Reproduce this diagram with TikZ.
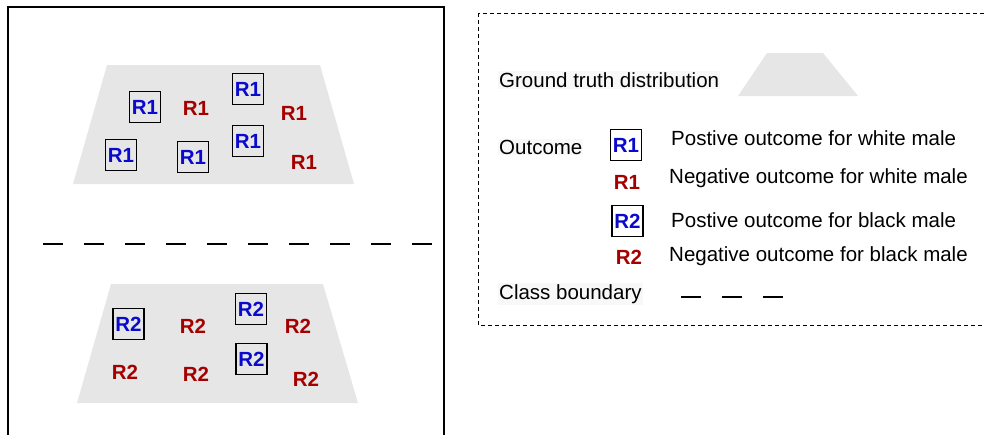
\documentclass[tikz,border=0pt]{standalone}
\usepackage{fontspec}
\setmainfont{Liberation Sans}
\definecolor{posblue}{RGB}{10,10,205}
\definecolor{negred}{RGB}{165,0,0}
\definecolor{distgray}{RGB}{230,230,230}
\definecolor{labelbg}{RGB}{248,248,248}
\begin{document}
\begin{tikzpicture}[x=1pt,y=-1pt,
  posbox/.style={draw=black,line width=1.4pt,inner sep=0pt,minimum width=31pt,minimum height=31pt,text=posblue,font=\fontsize{20.5}{24}\selectfont\bfseries},
  negtxt/.style={inner sep=0pt,text=negred,font=\fontsize{20.5}{24}\selectfont\bfseries},
  lbl/.style={inner sep=0pt,anchor=west,font=\fontsize{20.5}{24}\selectfont},
  bglbl/.style={lbl,fill=labelbg,inner sep=1pt},
  dist/.style={fill=distgray,draw=none},
  boundary/.style={line width=1.4pt,dash pattern=on 20pt off 21pt}
]
\useasboundingbox (0,0) rectangle (985,434);
\clip (0,0) rectangle (985,434);
% left panel frame
\draw[line width=1.5pt] (8,445) -- (8,7) -- (444,7) -- (444,445);
% upper distribution
\fill[dist] (107,65) -- (320,65) -- (354,184) -- (73,184) -- cycle;
\node[posbox] (a1) at (145,107) {R1};
\node[negtxt] (a2) at (196,108) {R1};
\node[posbox] (a3) at (248,89) {R1};
\node[negtxt] (a4) at (294,113) {R1};
\node[posbox] (a5) at (121,155) {R1};
\node[posbox] (a6) at (193,157) {R1};
\node[posbox] (a7) at (248,141) {R1};
\node[negtxt] (a8) at (304,162) {R1};
% class boundary
\coordinate (cb1) at (43,244);
\coordinate (cb2) at (436,244);
\draw[boundary] (cb1) -- (cb2);
% lower distribution
\fill[dist] (111,284) -- (323,284) -- (358,403) -- (77,403) -- cycle;
\node[posbox] (b1) at (128.5,324) {R2};
\node[negtxt] (b2) at (193,326) {R2};
\node[posbox] (b3) at (251,309) {R2};
\node[negtxt] (b4) at (298,326) {R2};
\node[negtxt] (b5) at (125,372) {R2};
\node[negtxt] (b6) at (196,374) {R2};
\node[posbox] (b7) at (251.5,359) {R2};
\node[negtxt] (b8) at (306,379) {R2};
% legend frame
\draw[line width=1pt,dash pattern=on 4pt off 3pt] (478,13) rectangle (1000,325);
% legend entries
\node[bglbl] (gt) at (498,80) {Ground truth distribution};
\fill[dist] (767,53) -- (823,53) -- (858,96) -- (738,96) -- cycle;
\node[bglbl] (oc) at (498,147) {Outcome};
\node[posbox] (l1) at (626,145) {R1};
\node[lbl] (t1) at (671,138) {Postive outcome for white male};
\node[negtxt] (l2) at (627,182) {R1};
\node[lbl] (t2) at (669,178) {Negative outcome for white male};
\node[posbox] (l3) at (627.5,221) {R2};
\node[lbl] (t3) at (671,220) {Postive outcome for black male};
\node[negtxt] (l4) at (629,257) {R2};
\node[lbl] (t4) at (669,256) {Negative outcome for black male};
\node[bglbl] (cb) at (498,294) {Class boundary};
\coordinate (lb1) at (681,297);
\coordinate (lb2) at (783,297);
\draw[boundary] (lb1) -- (lb2);
\end{tikzpicture}
\end{document}
